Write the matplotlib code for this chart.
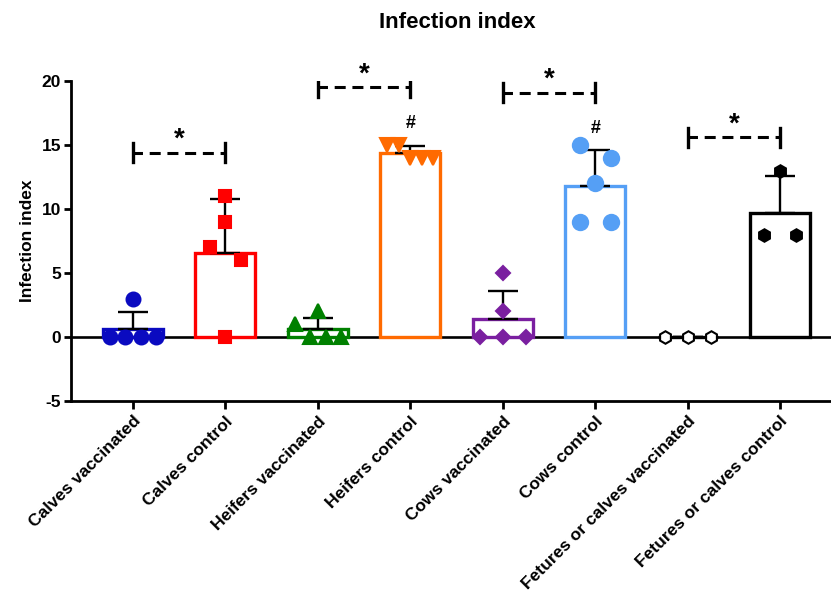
import matplotlib
matplotlib.use("Agg")
import matplotlib.pyplot as plt
import numpy as np

plt.rcParams['font.family'] = ['Liberation Sans', 'DejaVu Sans']
plt.rcParams['font.weight'] = 'bold'
plt.rcParams['axes.unicode_minus'] = False

groups = ['Calves vaccinated', 'Calves control', 'Heifers vaccinated', 'Heifers control',
          'Cows vaccinated', 'Cows control', 'Fetures or calves vaccinated', 'Fetures or calves control']

calves_vacc = [0, 0, 0, 0, 3]
calves_ctrl = [11, 9, 7, 6, 0]
heifers_vacc = [0, 0, 0, 1, 2]
heifers_ctrl = [15, 15, 14, 14, 14]
cows_vacc = [0, 0, 0, 2, 5]
cows_ctrl = [15, 14, 12, 9, 9]
fet_vacc = [0, 0, 0]
fet_ctrl = [13, 8, 8]

values = [calves_vacc, calves_ctrl, heifers_vacc, heifers_ctrl,
          cows_vacc, cows_ctrl, fet_vacc, fet_ctrl]

colors = ['#0A0AC0', '#FF0000', '#008000', '#FF6A00', '#7A1FA0', '#559FF5', '#000000', '#000000']
markers = ['o', 's', '^', 'v', 'D', 'o', 'h', 'h']
msizes = [10, 9, 9.5, 9.5, 7, 11, 9, 9]
mfaces = colors[:6] + ['white', 'black']

# significance pairs and the heights of their brackets
pairs = [(0, 1), (2, 3), (4, 5), (6, 7)]
bracket_y = [14.4, 19.5, 19.1, 15.6]
hash_groups = [3, 5]


def spread(vals):
    # put points with (nearly) equal values side by side
    order = np.argsort(vals)
    offs = np.zeros(len(vals))
    clusters = []
    for i in order:
        if clusters and vals[i] - vals[clusters[-1][0]] <= 1.05:
            clusters[-1].append(i)
        else:
            clusters.append([i])
    for c in clusters:
        n = len(c)
        if n == 1:
            continue
        step = min(0.34, 0.5 / (n - 1))
        c = sorted(c, key=lambda k: -vals[k])
        for j, k in enumerate(c):
            offs[k] = (j - (n - 1) / 2) * step
    return offs


fig = plt.figure(figsize=(8.31, 6), dpi=100)
ax = fig.add_axes([0.0854, 0.3317, 0.9146, 0.5333])

x = np.arange(len(groups))
means = [np.mean(v) for v in values]
sds = [np.std(v, ddof=1) for v in values]

ax.axhline(0, color='black', lw=1.9, zorder=1)

for i in range(len(groups)):
    ax.bar(x[i], means[i], width=0.65, facecolor='none', edgecolor=colors[i],
           linewidth=2.4, zorder=2)
    ax.errorbar(x[i], means[i], yerr=[[0], [sds[i]]], fmt='none', ecolor='black',
                elinewidth=1.7, capsize=11, capthick=1.7, zorder=3)
    v = np.array(values[i], dtype=float)
    ax.plot(x[i] + spread(v), v, linestyle='none', marker=markers[i], ms=msizes[i],
            mfc=mfaces[i], mec=colors[i], mew=1.5, zorder=4, clip_on=False)

for (a, b), yb in zip(pairs, bracket_y):
    ax.plot([x[a], x[b]], [yb, yb], color='black', lw=2.2, ls=(0.5, (3.6, 2.2)), zorder=3)
    for xx in (x[a], x[b]):
        ax.plot([xx, xx], [yb - 0.75, yb + 0.75], color='black', lw=2.4, zorder=3)
    ax.text((x[a] + x[b]) / 2, yb + 1.0, '*', ha='center', va='center',
            fontsize=20, fontweight='bold')

for g in hash_groups:
    ax.text(x[g], means[g] + sds[g] + 1.7, '#', ha='center', va='center',
            fontsize=13, fontweight='bold')

ax.set_ylim(-5, 20)
ax.set_xlim(-0.67, 7.55)
ax.set_yticks([-5, 0, 5, 10, 15, 20])
ax.set_xticks(x)
ax.set_xticklabels(groups, rotation=45, ha='right', rotation_mode='anchor',
                   fontsize=12.5, fontweight='bold')
for lab in ax.get_yticklabels():
    lab.set_fontweight('bold')
    lab.set_fontsize(12.5)

ax.spines['top'].set_visible(False)
ax.spines['right'].set_visible(False)
ax.spines['left'].set_linewidth(2)
ax.spines['bottom'].set_linewidth(2)
ax.tick_params(axis='y', length=5, width=2, pad=2)
ax.tick_params(axis='x', length=6, width=2, pad=3)

ax.set_ylabel('Infection index', fontsize=12.5, fontweight='bold', labelpad=5)
fig.text(0.55, 0.962, 'Infection index', ha='center', va='center',
         fontsize=16, fontweight='bold')

fig.savefig('out.png', dpi=100)
